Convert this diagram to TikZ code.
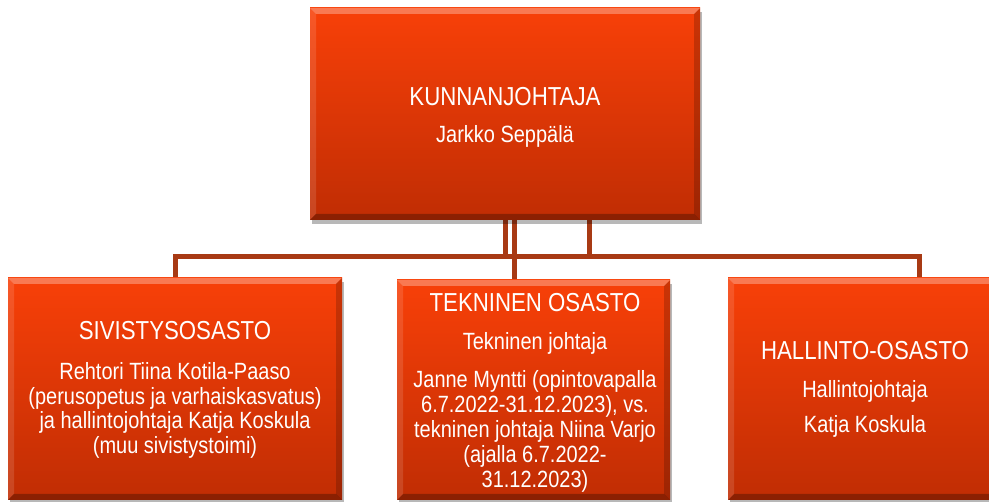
\documentclass[tikz,border=0pt]{standalone}
\usepackage{fontspec}
\setmainfont{Liberation Sans}[FakeStretch=0.85]
\newfontfamily\hdfam{Liberation Sans}[FakeStretch=0.855]
\usetikzlibrary{shadows}
\definecolor{boxtop}{RGB}{248,64,8}
\definecolor{boxbot}{RGB}{192,45,4}
\definecolor{connclr}{RGB}{168,58,20}
\newcommand\hdfont{\hdfam\fontsize{26}{30}\selectfont}
\newcommand\bdfont{\fontsize{23.5}{27}\selectfont}
\pgfdeclarelayer{bg}
\pgfsetlayers{bg,main}
\tikzset{
  orgbox/.style={rectangle, draw=none, inner sep=0pt,
    top color=boxtop, bottom color=boxbot,
    drop shadow={shadow xshift=2pt, shadow yshift=-4pt, opacity=.28, fill=black},
    path picture={
      \coordinate (pnw) at (path picture bounding box.north west);
      \coordinate (pne) at (path picture bounding box.north east);
      \coordinate (psw) at (path picture bounding box.south west);
      \coordinate (pse) at (path picture bounding box.south east);
      \fill[white,opacity=.30] (pnw) -- (pne) -- ([shift={(-6pt,-6pt)}]pne) -- ([shift={(6pt,-6pt)}]pnw) -- cycle;
      \fill[white,opacity=.12] (pnw) -- ([shift={(6pt,-6pt)}]pnw) -- ([shift={(6pt,6pt)}]psw) -- (psw) -- cycle;
      \fill[black,opacity=.18] (pne) -- ([shift={(-6pt,-6pt)}]pne) -- ([shift={(-6pt,6pt)}]pse) -- (pse) -- cycle;
      \fill[black,opacity=.28] (psw) -- ([shift={(6pt,6pt)}]psw) -- ([shift={(-6pt,6pt)}]pse) -- (pse) -- cycle;
    }},
  txt/.style={text=white, anchor=base, inner sep=0pt},
  connector/.style={draw=connclr, line width=5pt, line join=miter}
}
\begin{document}
\begin{tikzpicture}[x=1pt,y=-1pt]
\useasboundingbox (0,0) rectangle (989,502);
\clip (0,0) rectangle (989,502);

% boxes
\node[orgbox, minimum width=390pt, minimum height=212pt] (top) at (505,114) {};
\node[orgbox, minimum width=334pt, minimum height=222pt] (left) at (175,389) {};
\node[orgbox, minimum width=273pt, minimum height=220pt] (mid) at (533.5,390) {};
\node[orgbox, minimum width=282pt, minimum height=222pt] (right) at (869,389) {};

% connectors
\coordinate (hL) at (175,257);
\coordinate (hR) at (919,257);
\begin{pgfonlayer}{bg}
\fill[white] (0,0) rectangle (989,502);
\draw[connector] (left.north) -- (hL) -- (hR) -- (hR |- right.north);
\draw[connector] (top.south) -- (top.south |- hL);
\draw[connector] ([xshift=9pt]top.south) -- ([xshift=9pt]top.south |- mid.north);
\draw[connector] ([xshift=84pt]top.south) -- ([xshift=84pt]top.south |- hL);
\end{pgfonlayer}

% top text
\node[txt] (t1) at (505,106) {\hdfont KUNNANJOHTAJA};
\node[txt] (t2) at (505,143) {\bdfont Jarkko Seppälä};

% left text
\node[txt] (l1) at (175,340) {\hdfont SIVISTYSOSASTO};
\node[txt] (l2) at (175,380) {\bdfont Rehtori Tiina Kotila-Paaso};
\node[txt] (l3) at (175,404.5) {\bdfont (perusopetus ja varhaiskasvatus)};
\node[txt] (l4) at (175,429) {\bdfont ja hallintojohtaja Katja Koskula};
\node[txt] (l5) at (175,453.5) {\bdfont (muu sivistystoimi)};

% middle text
\node[txt] (m1) at (535,312) {\hdfont TEKNINEN OSASTO};
\node[txt] (m2) at (535,350) {\bdfont Tekninen johtaja};
\node[txt] (m3) at (535,388) {\bdfont Janne Myntti (opintovapalla};
\node[txt] (m4) at (535,413) {\bdfont 6.7.2022-31.12.2023), vs.};
\node[txt] (m5) at (535,438) {\bdfont tekninen johtaja Niina Varjo};
\node[txt] (m6) at (535,463) {\bdfont (ajalla 6.7.2022-};
\node[txt] (m7) at (535,488) {\bdfont 31.12.2023)};

% right text
\node[txt] (r1) at (865,360) {\hdfont HALLINTO-OSASTO};
\node[txt] (r2) at (865,398) {\bdfont Hallintojohtaja};
\node[txt] (r3) at (865,433) {\bdfont Katja Koskula};
\end{tikzpicture}
\end{document}
